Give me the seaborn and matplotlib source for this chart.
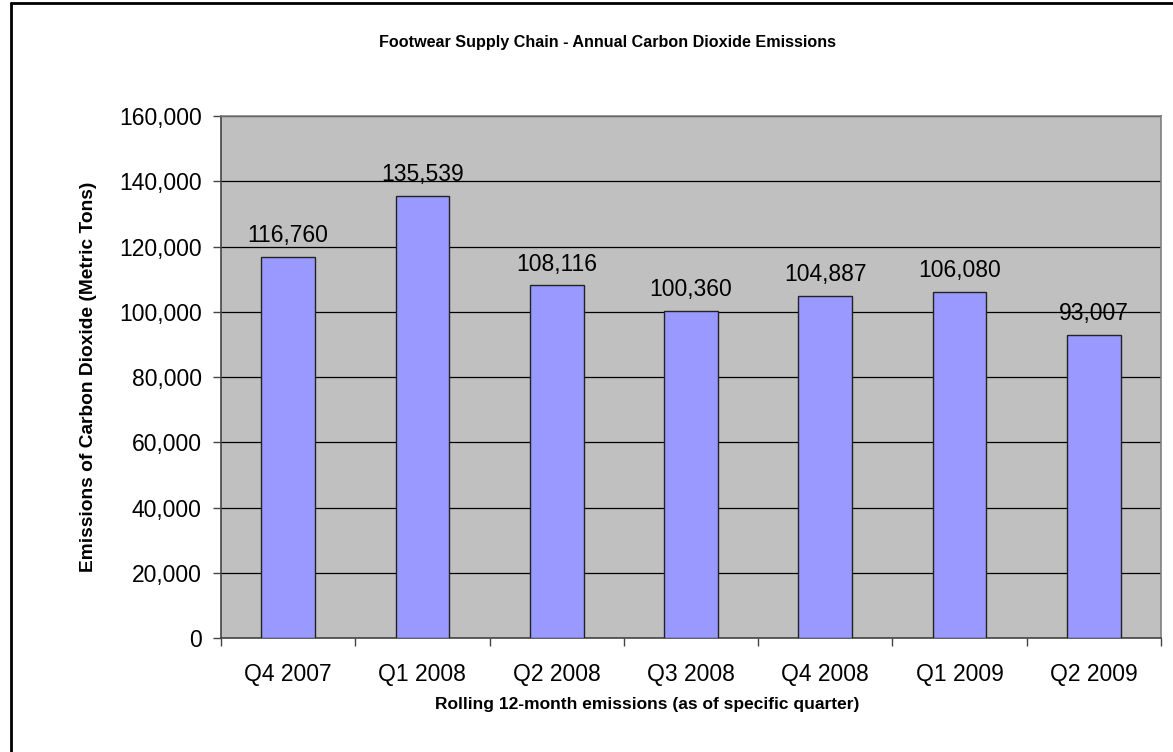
import numpy as np
import pandas as pd
import matplotlib
matplotlib.use("Agg")
import matplotlib.pyplot as plt
from matplotlib.ticker import FuncFormatter, FixedLocator
from matplotlib.lines import Line2D
import seaborn as sns

quarters = ["Q4 2007", "Q1 2008", "Q2 2008", "Q3 2008", "Q4 2008", "Q1 2009", "Q2 2009"]
emissions = [116760, 135539, 108116, 100360, 104887, 106080, 93007]

df = pd.DataFrame({"quarter": quarters, "emissions": emissions})

sns.set_style("white")
plt.rcParams["font.family"] = ["Liberation Sans", "DejaVu Sans"]
plt.rcParams["text.color"] = "black"
plt.rcParams["xtick.color"] = "black"
plt.rcParams["ytick.color"] = "black"
plt.rcParams["axes.labelcolor"] = "black"

fig = plt.figure(figsize=(11.73, 7.52), dpi=100)
ax = fig.add_axes([0.1884, 0.1516, 0.8014, 0.6941])
ax.set_facecolor("#C0C0C0")

sns.barplot(data=df, x="quarter", y="emissions", color="#9999FF", saturation=1,
            width=0.4, edgecolor="#222222", linewidth=1.0, ax=ax, zorder=3)

ax.set_xlim(-0.5, len(quarters) - 0.5)
ax.set_ylim(0, 160000)
ax.set_yticks(np.arange(0, 160001, 20000))
ax.yaxis.set_major_formatter(FuncFormatter(lambda v, p: f"{int(v):,}"))
ax.grid(axis="y", color="black", linewidth=0.9, zorder=0)
ax.set_axisbelow(True)

# tick marks sit between categories
ax.xaxis.set_minor_locator(FixedLocator(np.arange(-0.5, len(quarters), 1)))
ax.tick_params(axis="x", which="major", length=0, pad=18, labelsize=16.5)
ax.tick_params(axis="x", which="minor", length=6, width=1, color="#444444", direction="out")
ax.tick_params(axis="y", length=6, width=1, color="#444444", direction="out", pad=8, labelsize=16.5)
ax.tick_params(bottom=True, left=True, which="both")

for s in ["left", "bottom"]:
    ax.spines[s].set_color("#444444")
    ax.spines[s].set_linewidth(1.2)
for s in ["top", "right"]:
    ax.spines[s].set_color("#808080")
    ax.spines[s].set_linewidth(1.2)

for i, v in enumerate(emissions):
    ax.annotate(f"{v:,}", (i, v), xytext=(0, 7), textcoords="offset points",
                ha="center", va="bottom", fontsize=16.5, zorder=4)

ax.set_xlabel("Rolling 12-month emissions (as of specific quarter)", fontsize=12.5,
              fontweight="bold")
ax.set_ylabel("Emissions of Carbon Dioxide (Metric Tons)", fontsize=13.8,
              fontweight="bold")
ax.xaxis.set_label_coords(0.453, -0.113)
ax.yaxis.set_label_coords(-0.132, 0.5)
fig.text(0.5175, 0.944, "Footwear Supply Chain - Annual Carbon Dioxide Emissions",
         ha="center", va="center", fontsize=11.6, fontweight="bold")

# outer frame of the chart (left and top edges visible)
fig.add_artist(Line2D([0.0098, 0.0098], [0, 0.996], transform=fig.transFigure, color="black", linewidth=2))
fig.add_artist(Line2D([0.0098, 1.0], [0.996, 0.996], transform=fig.transFigure, color="black", linewidth=2))

fig.savefig("out.png", dpi=100)
